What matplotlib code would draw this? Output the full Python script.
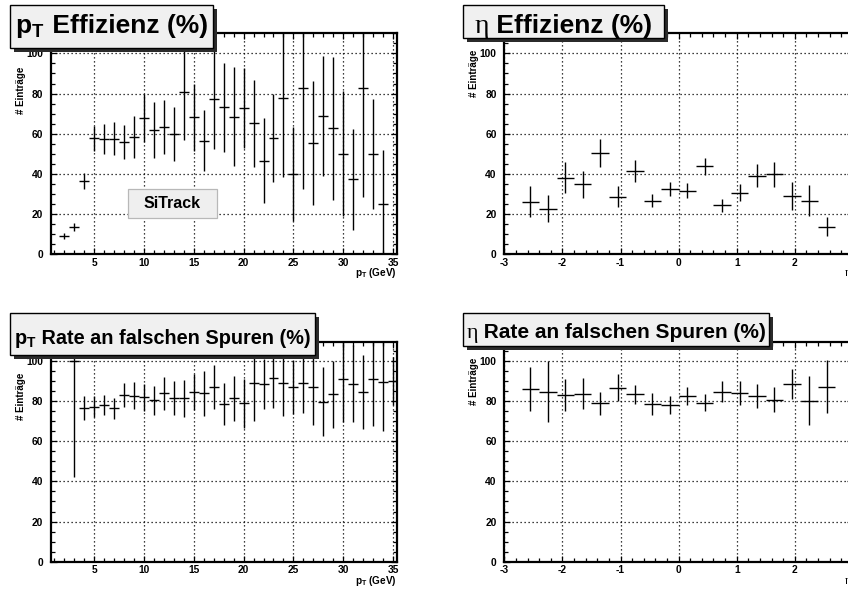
import matplotlib
matplotlib.use("Agg")
import matplotlib.pyplot as plt
from matplotlib.patches import Rectangle
from matplotlib.ticker import MultipleLocator

# ---- data ----------------------------------------------------------------
pt_eff_x = [2, 3, 4, 5, 6, 7, 8, 9, 10, 11, 12, 13, 14, 15, 16, 17, 18,
            19, 20, 21, 22, 23, 24, 25, 26, 27, 28, 29, 30, 31, 32, 33, 34]
pt_eff_y = [9.0, 13.8, 36.5, 57.7, 57.2, 57.5, 55.9, 58.2, 67.7, 61.9, 63.5,
            59.9, 81.0, 68.2, 56.5, 77.3, 73.1, 68.5, 73.0, 65.2, 46.6, 58.0,
            78.0, 40.0, 83.0, 55.6, 69.0, 62.7, 50.0, 37.3, 83.0, 50.0, 24.9]
pt_eff_err = [1.5, 2.0, 4.2, 6.2, 7.5, 8.3, 8.7, 10.4, 12.0, 14.1, 13.4,
              13.3, 24.0, 16.7, 15.1, 25.0, 22.0, 24.6, 19.9, 21.7, 21.3,
              22.0, 39.6, 23.6, 50.7, 30.9, 29.9, 35.6, 31.1, 25.3, 54.7,
              27.4, 27.0]

eta_x = [-2.55, -2.25, -1.95, -1.65, -1.35, -1.05, -0.75, -0.45, -0.15,
         0.15, 0.45, 0.75, 1.05, 1.35, 1.65, 1.95, 2.25, 2.55]
eta_eff_y = [26.2, 22.6, 38.1, 34.8, 50.6, 28.7, 41.6, 26.7, 32.5, 31.7,
             43.9, 24.5, 30.7, 39.1, 39.8, 29.2, 26.7, 13.8]
eta_eff_err = [7.8, 6.7, 7.7, 6.8, 6.9, 5.1, 5.4, 3.2, 3.5, 3.6, 4.2, 3.2,
               4.4, 5.7, 6.1, 7.0, 7.7, 4.6]

pt_fake_x = [3, 4, 5, 6, 7, 8, 9, 10, 11, 12, 13, 14, 15, 16, 17, 18, 19,
             20, 21, 22, 23, 24, 25, 26, 27, 28, 29, 30, 31, 32, 33, 34, 35]
pt_fake_y = [100.0, 76.7, 77.2, 78.1, 76.4, 83.0, 82.7, 81.9, 80.4, 83.9,
             81.7, 81.4, 84.4, 83.9, 87.0, 78.4, 81.4, 78.9, 89.2, 88.4,
             91.4, 88.9, 86.9, 88.9, 87.2, 79.7, 83.4, 90.9, 88.7, 84.7,
             91.0, 89.4, 90.0]
pt_fake_err = [57.6, 6.0, 5.1, 5.1, 5.1, 5.9, 6.6, 6.8, 7.1, 8.3, 8.5, 9.1,
               9.0, 11.2, 10.8, 10.5, 11.2, 12.2, 18.9, 12.5, 15.0, 16.1,
               13.5, 14.6, 19.1, 17.1, 16.8, 21.4, 19.3, 18.4, 23.3, 24.1,
               12.0]

eta_fake_y = [86.0, 84.7, 83.0, 83.6, 78.9, 86.7, 83.4, 78.6, 78.1, 82.6,
              79.2, 84.7, 83.9, 82.6, 80.6, 88.5, 80.1, 87.2]
eta_fake_err = [11.0, 15.1, 8.1, 7.7, 5.6, 6.6, 4.8, 5.4, 4.3, 4.6, 4.3,
                5.1, 6.0, 5.8, 6.2, 7.6, 12.2, 13.1]

pt_bin_width = 1.0
eta_bin_width = 0.3

# title = (prefix, rest); prefix "η" is set in a serif face like ROOT's #eta
titles = [(r"$\mathbf{p}_\mathbf{T}$", " Effizienz (%)"),
          ("η", " Effizienz (%)"),
          (r"$\mathbf{p}_\mathbf{T}$", " Rate an falschen Spuren (%)"),
          ("η", " Rate an falschen Spuren (%)")]
ylabel = "# Einträge"
pt_xlabel = r"$\mathbf{p}_\mathbf{T}$ (GeV)"
eta_xlabel = "η"
legend_text = "SiTrack"

# ---- style ---------------------------------------------------------------
plt.rcParams["font.family"] = ["Liberation Sans", "DejaVu Sans"]
plt.rcParams["font.weight"] = "bold"
plt.rcParams["axes.unicode_minus"] = False
plt.rcParams["mathtext.fontset"] = "custom"
plt.rcParams["mathtext.rm"] = "Liberation Sans:bold"
plt.rcParams["mathtext.it"] = "Liberation Sans:bold"
plt.rcParams["mathtext.bf"] = "Liberation Sans:bold"
plt.rcParams["mathtext.sf"] = "Liberation Sans:bold"

W, H = 848, 590
fig = plt.figure(figsize=(W / 100, H / 100), dpi=100)
fig.patch.set_facecolor("white")
renderer = fig.canvas.get_renderer()


def fx(px):
    return px / W


def fy(py):
    return 1 - py / H


def make_axes(left, top, right, bottom):
    return fig.add_axes([fx(left), fy(bottom), fx(right) - fx(left),
                         fy(top) - fy(bottom)])


def style_axes(ax, xmajor, xminor, width_px, label_top):
    for s in ax.spines.values():
        s.set_linewidth(1.6)
    ax.xaxis.set_major_locator(MultipleLocator(xmajor))
    ax.xaxis.set_minor_locator(MultipleLocator(xminor))
    ax.yaxis.set_major_locator(MultipleLocator(20))
    ax.yaxis.set_minor_locator(MultipleLocator(5))
    ax.tick_params(which="both", direction="in", top=True, right=True,
                   width=0.9, labelsize=7.4)
    ax.tick_params(which="major", length=4.5)
    ax.tick_params(which="minor", length=2.6)
    ax.tick_params(axis="x", which="major", pad=2.5)
    ax.tick_params(axis="y", which="major", pad=5.5)
    for lab in ax.get_xticklabels() + ax.get_yticklabels():
        lab.set_fontweight("bold")
    ax.grid(True, which="major", color="black", linestyle=(0, (1, 2.2)),
            linewidth=0.9)
    ax.set_axisbelow(True)
    ax.text(-30 / width_px, label_top, ylabel, transform=ax.transAxes,
            rotation=90, ha="center", va="top", fontsize=7.0,
            fontweight="bold")


def draw_hist(ax, x, y, err, width):
    ax.errorbar(x, y, xerr=width / 2, yerr=err, fmt="none", ecolor="black",
                elinewidth=1.0, capsize=0, zorder=3)


def title_box(x0, y0, x1, y1, parts, baseline, size):
    sh = 4
    fig.patches.append(Rectangle((fx(x0 + sh), fy(y1 + sh)),
                                 fx(x1 - x0), fy(y0) - fy(y1),
                                 transform=fig.transFigure,
                                 facecolor="#2b2b2b", edgecolor="none",
                                 zorder=10))
    fig.patches.append(Rectangle((fx(x0), fy(y1)), fx(x1 - x0),
                                 fy(y0) - fy(y1), transform=fig.transFigure,
                                 facecolor="#f0f0f0", edgecolor="black",
                                 linewidth=1.0, zorder=11))
    prefix, rest = parts
    if prefix == "η":
        t1 = fig.text(0, fy(baseline), prefix, ha="left", va="baseline",
                      fontsize=size * 1.05, family="Liberation Serif",
                      fontweight="normal", zorder=12)
    else:
        t1 = fig.text(0, fy(baseline), prefix, ha="left", va="baseline",
                      fontsize=size, fontweight="bold", zorder=12)
    t2 = fig.text(0, fy(baseline), rest, ha="left", va="baseline",
                  fontsize=size, fontweight="bold", zorder=12)
    w1 = t1.get_window_extent(renderer).width
    w2 = t2.get_window_extent(renderer).width
    start = (x0 + x1) / 2 - (w1 + w2) / 2
    t1.set_x(fx(start))
    t2.set_x(fx(start + w1))


# ---- panels ---------------------------------------------------------------
ax1 = make_axes(50.7, 33.3, 396.8, 254.3)
ax2 = make_axes(504.3, 33.3, 504.3 + 6 * 58.1, 254.3)
ax3 = make_axes(50.7, 341.7, 396.8, 561.7)
ax4 = make_axes(504.3, 341.7, 504.3 + 6 * 58.1, 561.7)

draw_hist(ax1, pt_eff_x, pt_eff_y, pt_eff_err, pt_bin_width)
draw_hist(ax2, eta_x, eta_eff_y, eta_eff_err, eta_bin_width)
draw_hist(ax3, pt_fake_x, pt_fake_y, pt_fake_err, pt_bin_width)
draw_hist(ax4, eta_x, eta_fake_y, eta_fake_err, eta_bin_width)

for ax in (ax1, ax3):
    ax.set_xlim(0.65, 35.37)
for ax in (ax2, ax4):
    ax.set_xlim(-3, 3)
ax1.set_ylim(0, 110)
ax2.set_ylim(0, 110)
ax3.set_ylim(0, 109.6)
ax4.set_ylim(0, 109.6)

style_axes(ax1, 5, 1, 346.1, 0.8475)
style_axes(ax2, 1, 0.2, 348.6, 0.924)
style_axes(ax3, 5, 1, 346.1, 0.858)
style_axes(ax4, 1, 0.2, 348.6, 0.926)

for ax, h in ((ax1, 221), (ax3, 220)):
    ax.text(1.0, -19 / h, pt_xlabel, transform=ax.transAxes, ha="right",
            va="center", fontsize=7.2, fontweight="bold")
for ax, h in ((ax2, 221), (ax4, 220)):
    ax.text(0.995, -19 / h, eta_xlabel, transform=ax.transAxes, ha="right",
            va="center", fontsize=8.5, family="Liberation Serif",
            fontweight="normal")

# legend-like label in the pT efficiency panel
fig.patches.append(Rectangle((fx(128), fy(218)), fx(217 - 128),
                             fy(189) - fy(218), transform=fig.transFigure,
                             facecolor="#efefef", edgecolor="#b8b8b8",
                             linewidth=0.9, zorder=10))
fig.text(fx(172.5), fy(204), legend_text, ha="center", va="center",
         fontsize=11.5, fontweight="bold", zorder=12)

# title boxes
title_box(10, 5, 213, 48, titles[0], 33.3, 19)
title_box(463, 5, 664, 38, titles[1], 33.3, 19)
title_box(10, 313, 315, 355, titles[2], 344, 14.3)
title_box(463, 313, 769, 346, titles[3], 337.7, 15)

fig.savefig("out.png", dpi=100)
